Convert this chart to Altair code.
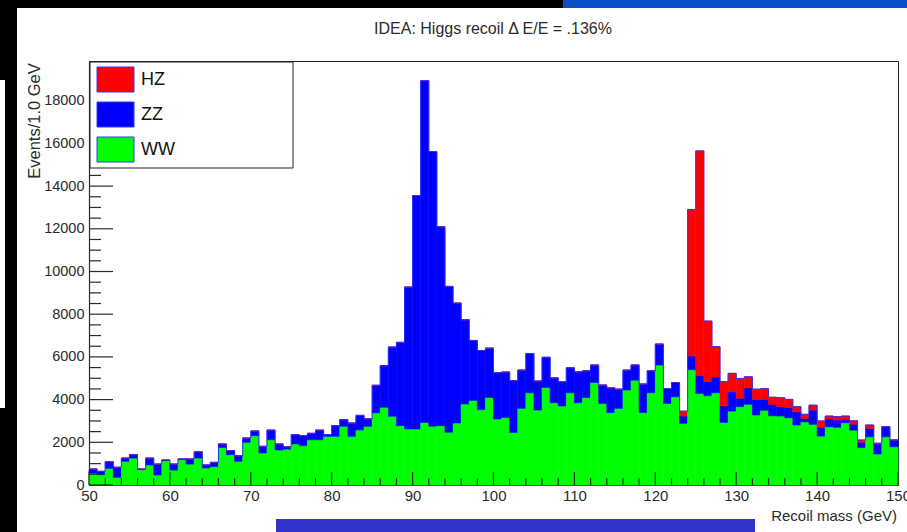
import altair as alt
import pandas as pd

# ---------------------------------------------------------------------------
# Recoil-mass histogram, 1 GeV bins from 50 to 150 GeV (events per bin)
# ---------------------------------------------------------------------------
mass_low = list(range(50, 150))

ww_events = [
    550, 480, 780, 360, 1110, 1260, 720, 940, 470, 1140,
    700, 1190, 980, 1260, 800, 860, 1760, 1420, 1110, 2000,
    2310, 1500, 2120, 1640, 1680, 1920, 1840, 2120, 2120, 2280,
    2280, 2750, 2280, 2580, 2750, 3380, 3640, 3220, 2780, 2620,
    2620, 2930, 2750, 2780, 2470, 2900, 3790, 3960, 3530, 4100,
    3090, 3160, 2460, 3590, 4320, 3510, 4570, 3850, 3700, 4320,
    3850, 4100, 4800, 3820, 3390, 3590, 4450, 4910, 3390, 4320,
    5620, 3820, 4130, 2890, 5400, 4290, 4180, 4320, 2930, 3460,
    3670, 3780, 3280, 3500, 3240, 3230, 3150, 2810, 2960, 2840,
    2290, 2730, 2700, 2920, 2570, 1750, 2260, 1450, 2260, 1790,
]

zz_events = [
    200, 160, 310, 470, 150, 160, 30, 320, 510, 30,
    280, 30, 240, 300, 140, 200, 160, 190, 260, 200,
    220, 310, 450, 280, 110, 440, 470, 300, 450, 80,
    500, 310, 620, 680, 350, 1290, 1950, 3240, 3900, 6650,
    10940, 16010, 12870, 9320, 6830, 5620, 3950, 2810, 2770, 2310,
    2170, 2130, 2430, 1790, 1840, 1360, 1410, 1170, 1140, 1170,
    1450, 1250, 820, 860, 1160, 900, 930, 710, 1340, 1030,
    980, 700, 670, 340, 640, 830, 660, 750, 780, 910,
    390, 780, 730, 510, 530, 440, 480, 620, 160, 670,
    410, 360, 340, 150, 280, 250, 390, 470, 470, 320,
]

hz_events = [
    0, 0, 0, 0, 0, 0, 0, 0, 0, 0,
    0, 0, 0, 0, 0, 0, 0, 0, 0, 0,
    0, 0, 0, 0, 0, 0, 0, 0, 0, 0,
    0, 0, 0, 0, 0, 0, 0, 0, 0, 0,
    0, 0, 0, 0, 0, 0, 0, 0, 0, 0,
    0, 0, 0, 0, 0, 0, 0, 0, 0, 0,
    0, 0, 0, 0, 0, 0, 0, 0, 0, 0,
    0, 0, 0, 230, 6860, 10530, 2840, 1410, 1130, 860,
    930, 510, 480, 500, 340, 420, 380, 240, 190, 230,
    300, 140, 160, 160, 160, 110, 160, 40, 0, 0,
]

processes = ["HZ", "ZZ", "WW"]
process_colors = ["#ff0000", "#0000ff", "#00ff00"]

x_ticks_major = list(range(50, 151, 10))
x_ticks_minor = [v for v in range(50, 151, 2) if v % 10]
y_ticks_major = list(range(0, 18001, 2000))
y_ticks_minor = [v for v in range(0, 19501, 500) if v % 2000]

# ---------------------------------------------------------------------------
# Layout (pixels)
# ---------------------------------------------------------------------------
W, H = 809, 424
PAD = {"left": 89, "top": 61, "right": 9, "bottom": 47}
Y_TOP = 19860

FONT = "Liberation Sans, Arial, sans-serif"
INK = "#2b2b2b"

# stacked table: WW at the bottom, then ZZ, then HZ
rows = []
for i, lo in enumerate(mass_low):
    base = 0
    for name, series in (("WW", ww_events), ("ZZ", zz_events), ("HZ", hz_events)):
        top = base + series[i]
        rows.append({"lo": lo, "hi": lo + 1, "process": name,
                     "base": base, "top": top})
        base = top
hist = pd.DataFrame(rows)

totals = [w + z + h for w, z, h in zip(ww_events, zz_events, hz_events)]
outline = pd.DataFrame({"lo": mass_low + [150], "total": totals + [totals[-1]]})

xscale = alt.Scale(domain=[50, 150], nice=False, zero=False)
yscale = alt.Scale(domain=[0, Y_TOP], nice=False, zero=True)
pscale = alt.Scale(domain=processes, range=process_colors)

# one axis definition shared by every layer on the same scales
x_axis = alt.Axis(values=x_ticks_major, ticks=False, tickSize=0,
                  labelPadding=3, labelFontSize=15, labelFont=FONT,
                  labelColor=INK, labelFlush=False, grid=False,
                  domainColor=INK, domainWidth=1.2, format="d", title=None)
y_axis = alt.Axis(values=y_ticks_major, ticks=False, tickSize=0,
                  labelPadding=5, labelFontSize=14.5, labelFont=FONT,
                  labelColor=INK, grid=False, domainColor=INK,
                  domainWidth=1.2, format="d", title=None)

bars = alt.Chart(hist).mark_bar(strokeWidth=0.6).encode(
    x=alt.X("lo:Q", scale=xscale, axis=x_axis, title=None),
    x2="hi:Q",
    y=alt.Y("base:Q", scale=yscale, axis=y_axis, title=None),
    y2="top:Q",
    fill=alt.Fill("process:N", scale=pscale, legend=None),
    stroke=alt.Stroke("process:N", scale=pscale, legend=None),
)

# blue histogram outline along the stack total
edge = alt.Chart(outline).mark_line(
    interpolate="step-after", color="#2d2dff", strokeWidth=1
).encode(
    x=alt.X("lo:Q", scale=xscale, axis=x_axis, title=None),
    y=alt.Y("total:Q", scale=yscale, axis=y_axis, title=None),
)

# inward-pointing axis ticks
def y_ticks(values, length):
    return alt.Chart(pd.DataFrame({"v": values})).mark_rule(
        color=INK, strokeWidth=1.2
    ).encode(
        y=alt.Y("v:Q", scale=yscale, axis=y_axis, title=None),
        x=alt.value(0), x2=alt.value(length),
    )

def x_ticks(values, length):
    return alt.Chart(pd.DataFrame({"v": values})).mark_rule(
        color=INK, strokeWidth=1.2
    ).encode(
        x=alt.X("v:Q", scale=xscale, axis=x_axis, title=None),
        y=alt.value(H), y2=alt.value(H - length),
    )

ticks = [y_ticks(y_ticks_major, 24), y_ticks(y_ticks_minor, 12),
         x_ticks(x_ticks_major, 13), x_ticks(x_ticks_minor, 7)]

# legend box
one = pd.DataFrame({"k": [0]})
legend_frame = alt.Chart(one).mark_rect(
    fill="white", stroke="#222", strokeWidth=1
).encode(x=alt.value(1), x2=alt.value(204), y=alt.value(1), y2=alt.value(107))

legend_df = pd.DataFrame({"process": processes, "row": range(len(processes))})
legend_swatch = alt.Chart(legend_df).transform_calculate(
    y0="6 + 35 * datum.row", y1="31 + 35 * datum.row"
).mark_rect(stroke="#3535ff", strokeWidth=1).encode(
    x=alt.value(8), x2=alt.value(45),
    y=alt.Y("y0:Q", scale=None), y2="y1:Q",
    fill=alt.Fill("process:N", scale=pscale, legend=None),
)
legend_text = alt.Chart(legend_df).transform_calculate(
    yc="18.5 + 35 * datum.row"
).mark_text(
    align="left", baseline="middle", font=FONT, fontSize=18, color="#111"
).encode(
    x=alt.value(52), y=alt.Y("yc:Q", scale=None), text="process:N",
)

# titles
def label(text, x, y, size, align="center", angle=0):
    return alt.Chart(pd.DataFrame({"t": [text]})).mark_text(
        align=align, baseline="middle", font=FONT, fontSize=size,
        color=INK, angle=angle
    ).encode(x=alt.value(x), y=alt.value(y), text="t:N")

title = label("IDEA: Higgs recoil \u0394 E/E = .136%", 404, -32, 16)
ytitle = label("Events/1.0 GeV", -54, 60, 16.5, angle=270)
xtitle = label("Recoil mass (GeV)", 808, 455, 15, align="right")

# slide frame around the figure
def band(x0, x1, y0, y1, color):
    return alt.Chart(one).mark_rect(color=color).encode(
        x=alt.value(x0), x2=alt.value(x1), y=alt.value(y0), y2=alt.value(y1)
    )

frame = [
    band(-89, 474, -61, -53, "#000000"),
    band(474, 818, -61, -53, "#0b4fc8"),
    band(-89, -72, -61, 471, "#000000"),
    band(-89, -84, 19, 347, "#ffffff"),
    band(187, 666, 458, 471, "#3333cc"),
]

chart = alt.layer(
    bars, edge, *ticks, legend_frame, legend_swatch, legend_text,
    title, ytitle, xtitle, *frame
).properties(
    width=W, height=H,
    autosize=alt.AutoSizeParams(type="none"),
    padding=PAD,
    background="white",
).configure_view(stroke="#222", strokeWidth=1)

chart.save("out.html", embed_options={"renderer": "svg", "actions": False})
